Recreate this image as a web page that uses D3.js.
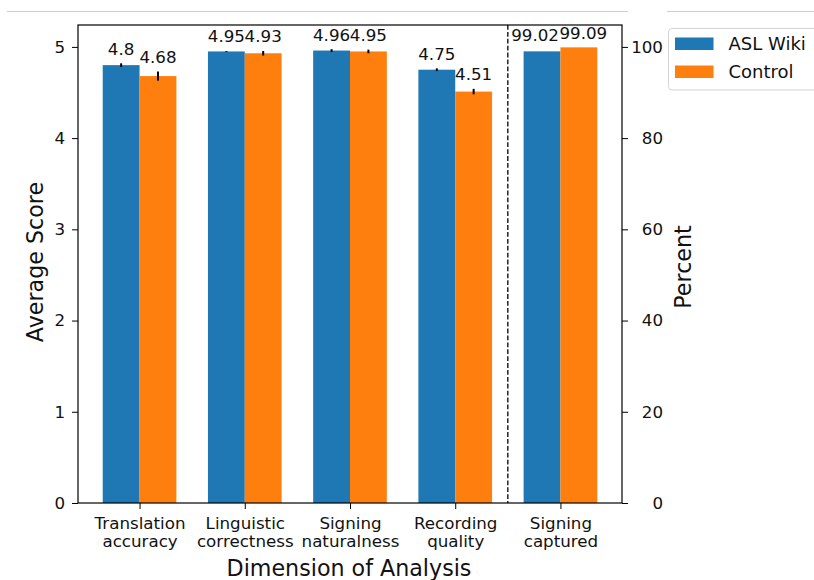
<!DOCTYPE html>
<html>
<head>
<meta charset="utf-8">
<script src="https://cdn.jsdelivr.net/npm/d3@7"></script>
<style>
  html, body { margin: 0; padding: 0; background: #fff; }
  svg { display: block; font-family: "DejaVu Sans", sans-serif; }
</style>
</head>
<body>
<svg id="chart" width="814" height="580"></svg>
<script>
// ---- Data ----
const categories = ["Translation accuracy", "Linguistic correctness", "Signing naturalness", "Recording quality", "Signing captured"];
const tickLines = [["Translation", "accuracy"], ["Linguistic", "correctness"], ["Signing", "naturalness"], ["Recording", "quality"], ["Signing", "captured"]];
const seriesNames = ["ASL Wiki", "Control"];
const aslScores = [4.8, 4.95, 4.96, 4.75];
const controlScores = [4.68, 4.93, 4.95, 4.51];
const aslErr = [0.02, 0.005, 0.015, 0.015];
const controlErr = [0.05, 0.025, 0.02, 0.03];
const capturedValues = [99.02, 99.9];
const capturedLabels = ["99.02", "99.09"];
const leftTicks = [0, 1, 2, 3, 4, 5];
const rightTicks = [0, 20, 40, 60, 80, 100];
const colors = ["#1f77b4", "#ff7f0e"];

// ---- Layout ----
const svg = d3.select("#chart");
const L = 78, R = 622, T = 25, B = 503;
const barW = 0.35;
const tickFont = "16.7px", titleFont = "22.2px", legendFont = "18px";

const x = d3.scaleLinear().domain([-0.585, 4.585]).range([L, R]);
const yL = d3.scaleLinear().domain([0, 5.24]).range([B, T]);
const yR = d3.scaleLinear().domain([0, 104.8]).range([B, T]);

// faint frame line at top
svg.append("line").attr("x1", 7).attr("x2", 628).attr("y1", 11.5).attr("y2", 11.5)
  .attr("stroke", "#cfcfcf").attr("stroke-width", 1);
svg.append("line").attr("x1", 667).attr("x2", 814).attr("y1", 11.5).attr("y2", 11.5)
  .attr("stroke", "#cfcfcf").attr("stroke-width", 1);

// build bar records
const bars = [];
categories.forEach((c, i) => {
  if (i < 4) {
    bars.push({i, s: 0, v: aslScores[i], err: aslErr[i], scale: yL, label: String(aslScores[i]), pct: false});
    bars.push({i, s: 1, v: controlScores[i], err: controlErr[i], scale: yL, label: String(controlScores[i]), pct: false});
  } else {
    bars.push({i, s: 0, v: capturedValues[0], err: 0, scale: yR, label: capturedLabels[0], pct: true});
    bars.push({i, s: 1, v: capturedValues[1], err: 0, scale: yR, label: capturedLabels[1], pct: true});
  }
});
const bw = () => x(barW) - x(0);
const bx = d => d.s === 0 ? x(d.i - barW) : x(d.i);

svg.append("g").selectAll("rect").data(bars).join("rect")
  .attr("x", d => bx(d))
  .attr("width", bw())
  .attr("y", d => d.scale(d.v))
  .attr("height", d => B - d.scale(d.v))
  .attr("fill", d => colors[d.s]);

// error bars
svg.append("g").selectAll("line").data(bars.filter(d => d.err > 0)).join("line")
  .attr("x1", d => bx(d) + bw() / 2)
  .attr("x2", d => bx(d) + bw() / 2)
  .attr("y1", d => d.scale(d.v - d.err))
  .attr("y2", d => d.scale(d.v + d.err))
  .attr("stroke", "#000").attr("stroke-width", 2);

// value labels (percent pair pushed apart so they do not collide)
svg.append("g").selectAll("text").data(bars).join("text")
  .attr("x", d => d.pct ? (d.s === 0 ? x(d.i) - 1.5 : x(d.i) - 1) : bx(d) + bw() / 2)
  .attr("y", d => d.scale(d.v + d.err) - (d.pct && d.s === 0 ? 10 : 8.5))
  .attr("text-anchor", d => d.pct ? (d.s === 0 ? "end" : "start") : "middle")
  .attr("font-size", tickFont)
  .attr("fill", "#111")
  .text(d => d.label);

// dashed separator
svg.append("line").attr("x1", x(3.5)).attr("x2", x(3.5)).attr("y1", T).attr("y2", B)
  .attr("stroke", "#000").attr("stroke-width", 1.3).attr("stroke-dasharray", "4.8,2.1");

// spines
svg.append("rect").attr("x", L).attr("y", T).attr("width", R - L).attr("height", B - T)
  .attr("fill", "none").attr("stroke", "#000").attr("stroke-width", 1.2);

// left axis
const gl = svg.append("g").attr("transform", `translate(${L},0)`)
  .call(d3.axisLeft(yL).tickValues(leftTicks).tickFormat(d3.format("d")).tickSize(6).tickSizeOuter(0).tickPadding(7));
gl.select(".domain").remove();
gl.selectAll("text").attr("font-size", tickFont).attr("fill", "#111").attr("font-family", "DejaVu Sans");

// right axis
const gr = svg.append("g").attr("transform", `translate(${R},0)`)
  .call(d3.axisRight(yR).tickValues(rightTicks).tickFormat(d3.format("d")).tickSize(6).tickSizeOuter(0));
gr.select(".domain").remove();
gr.selectAll("text").attr("font-size", tickFont).attr("fill", "#111").attr("font-family", "DejaVu Sans")
  .attr("text-anchor", "end").attr("x", 41);

// bottom axis
const gb = svg.append("g").attr("transform", `translate(0,${B})`)
  .call(d3.axisBottom(x).tickValues(d3.range(categories.length)).tickSize(6).tickSizeOuter(0).tickFormat(""));
gb.select(".domain").remove();
gb.selectAll(".tick").each(function(d) {
  const t = d3.select(this).append("text")
    .attr("fill", "#111").attr("font-size", tickFont).attr("font-family", "DejaVu Sans")
    .attr("text-anchor", "middle");
  tickLines[d].forEach((ln, k) => {
    t.append("tspan").attr("x", 0).attr("y", 25.7 + k * 18.3).text(ln);
  });
});

// axis titles
svg.append("text").attr("x", 349).attr("y", 575.5).attr("text-anchor", "middle")
  .attr("font-size", titleFont).attr("fill", "#111").text("Dimension of Analysis");
svg.append("text").attr("transform", "translate(43,262) rotate(-90)").attr("text-anchor", "middle")
  .attr("font-size", titleFont).attr("fill", "#111").text("Average Score");
svg.append("text").attr("transform", "translate(690.5,267) rotate(-90)").attr("text-anchor", "middle")
  .attr("font-size", titleFont).attr("fill", "#111").text("Percent");

// legend
const lg = svg.append("g");
lg.append("rect").attr("x", 668.5).attr("y", 28.5).attr("width", 170).attr("height", 61.5)
  .attr("rx", 3.5).attr("fill", "#fff").attr("stroke", "#d4d4d4").attr("stroke-width", 1);
seriesNames.forEach((n, k) => {
  lg.append("rect").attr("x", 675).attr("y", 37.5 + k * 28).attr("width", 38.5).attr("height", 12.5)
    .attr("fill", colors[k]);
  lg.append("text").attr("x", 728.5).attr("y", 49.5 + k * 28.8).attr("font-size", legendFont)
    .attr("fill", "#111").text(n);
});
</script>
</body>
</html>
